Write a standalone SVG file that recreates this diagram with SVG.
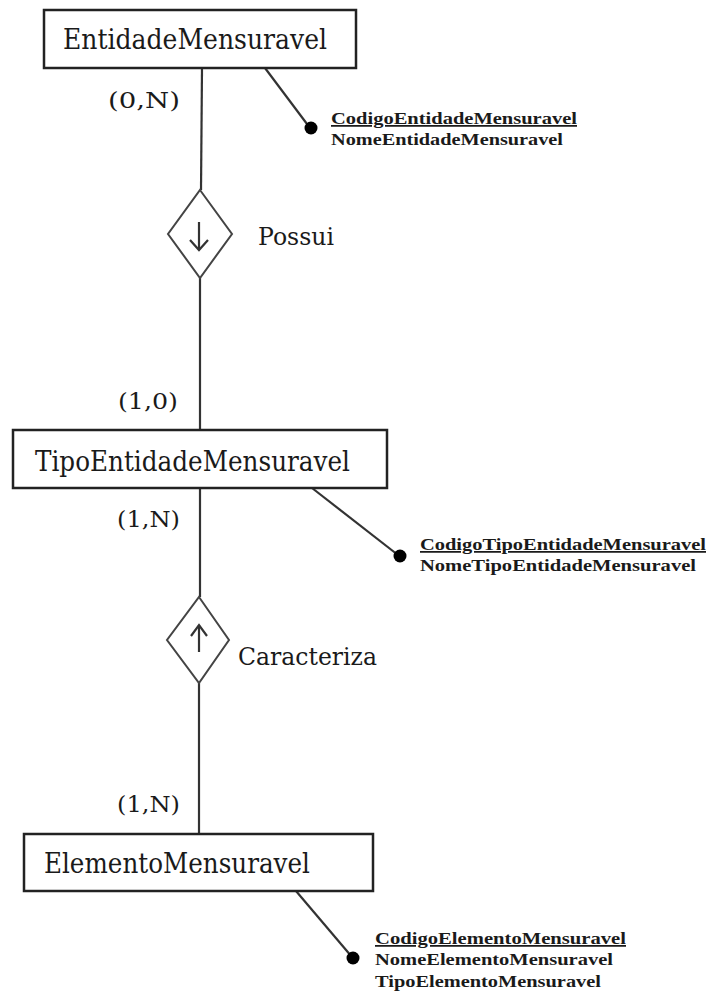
<svg xmlns="http://www.w3.org/2000/svg" width="708" height="995" viewBox="0 0 708 995">
<style>
.box{fill:#fff;stroke:#222;stroke-width:2.5}
.ln{fill:none;stroke:#333;stroke-width:2.2}
.dia{fill:#fff;stroke:#444;stroke-width:2}
.name{font-family:"DejaVu Serif","Liberation Serif",serif;font-size:27px;fill:#1a1a1a}
.card{font-family:"DejaVu Serif","Liberation Serif",serif;font-size:23px;fill:#1a1a1a}
.rel{font-family:"DejaVu Serif","Liberation Serif",serif;font-size:24px;fill:#1a1a1a}
.attr{font-family:"Liberation Serif",serif;font-size:17.5px;font-weight:bold;fill:#1a1a1a}
.dot{fill:#000}
</style>
<rect width="708" height="995" fill="#fff"/>
<g id="connectors">
<line class="ln" x1="202" y1="68" x2="201" y2="190"/>
<line class="ln" x1="200" y1="278" x2="200" y2="430"/>
<line class="ln" x1="200" y1="488" x2="200" y2="597"/>
<line class="ln" x1="199" y1="683" x2="199" y2="834"/>
<line class="ln" x1="265" y1="68" x2="310" y2="128"/>
<line class="ln" x1="312" y1="488" x2="398" y2="555"/>
<line class="ln" x1="296" y1="891" x2="352" y2="957"/>
</g>
<g id="EntidadeMensuravel">
<rect class="box" x="44" y="10" width="312" height="58"/>
<text class="name" x="63" y="49" textLength="264" lengthAdjust="spacingAndGlyphs">EntidadeMensuravel</text>
</g>
<g id="attrs1">
<circle class="dot" cx="311" cy="128" r="6.5"/>
<text class="attr" x="331" y="124" textLength="246" lengthAdjust="spacingAndGlyphs" text-decoration="underline">CodigoEntidadeMensuravel</text>
<text class="attr" x="331" y="145" textLength="232" lengthAdjust="spacingAndGlyphs">NomeEntidadeMensuravel</text>
</g>
<g id="card1"><text class="card" x="108" y="108" textLength="72" lengthAdjust="spacingAndGlyphs">(0,N)</text></g>
<g id="Possui">
<polygon class="dia" points="200,190 232,234 200,278 168,234"/>
<line class="ln" x1="199" y1="222" x2="199" y2="250"/>
<polyline class="ln" points="190,240 199,250 208,240"/>
<text class="rel" x="258" y="245" textLength="76" lengthAdjust="spacingAndGlyphs">Possui</text>
</g>
<g id="card2"><text class="card" x="118" y="409" textLength="60" lengthAdjust="spacingAndGlyphs">(1,0)</text></g>
<g id="TipoEntidadeMensuravel">
<rect class="box" x="13" y="430" width="374" height="58"/>
<text class="name" x="35" y="471" textLength="315" lengthAdjust="spacingAndGlyphs">TipoEntidadeMensuravel</text>
</g>
<g id="card3"><text class="card" x="117" y="527" textLength="63" lengthAdjust="spacingAndGlyphs">(1,N)</text></g>
<g id="attrs2">
<circle class="dot" cx="400" cy="556" r="6.5"/>
<text class="attr" x="420" y="550" textLength="286" lengthAdjust="spacingAndGlyphs" text-decoration="underline">CodigoTipoEntidadeMensuravel</text>
<text class="attr" x="420" y="571" textLength="276" lengthAdjust="spacingAndGlyphs">NomeTipoEntidadeMensuravel</text>
</g>
<g id="Caracteriza">
<polygon class="dia" points="199,597 229,640 199,683 167,640"/>
<line class="ln" x1="199" y1="625" x2="199" y2="652"/>
<polyline class="ln" points="191,636 199,625 207,636"/>
<text class="rel" x="238" y="665" textLength="139" lengthAdjust="spacingAndGlyphs">Caracteriza</text>
</g>
<g id="card4"><text class="card" x="117" y="812" textLength="63" lengthAdjust="spacingAndGlyphs">(1,N)</text></g>
<g id="ElementoMensuravel">
<rect class="box" x="24" y="834" width="349" height="57"/>
<text class="name" x="44" y="873" textLength="266" lengthAdjust="spacingAndGlyphs">ElementoMensuravel</text>
</g>
<g id="attrs3">
<circle class="dot" cx="353" cy="958" r="6.5"/>
<text class="attr" x="375" y="944" textLength="251" lengthAdjust="spacingAndGlyphs" text-decoration="underline">CodigoElementoMensuravel</text>
<text class="attr" x="375" y="965" textLength="238" lengthAdjust="spacingAndGlyphs">NomeElementoMensuravel</text>
<text class="attr" x="375" y="987" textLength="226" lengthAdjust="spacingAndGlyphs">TipoElementoMensuravel</text>
</g>
</svg>
